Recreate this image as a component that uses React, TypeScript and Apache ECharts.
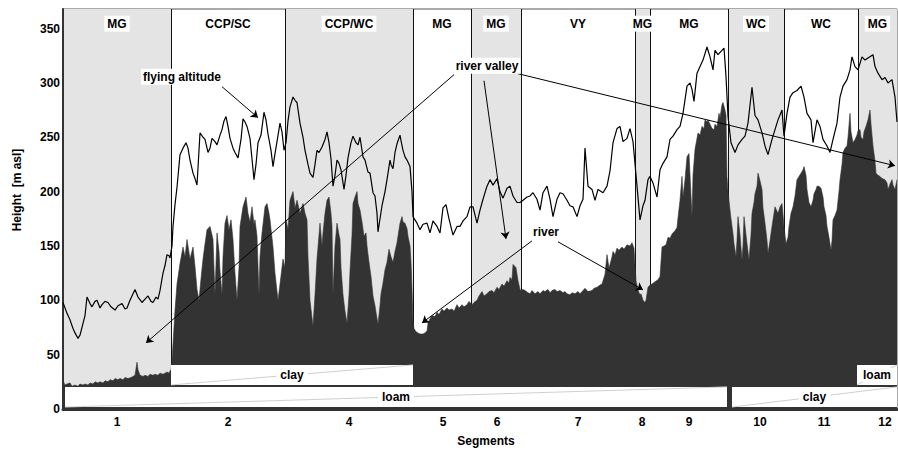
import { useEffect, useRef } from 'react';
import * as echarts from 'echarts';

// x values: distance along the flight line (0 .. 834), y: height [m asl]
const segmentBounds = [0, 108, 222, 350, 408, 458, 572, 587, 665, 721, 795, 834];
const segmentNames = ['MG', 'CCP/SC', 'CCP/WC', 'MG', 'MG', 'VY', 'MG', 'MG', 'WC', 'WC', 'MG'];
const segmentTickPos = [54, 165, 286, 380, 434, 515, 579, 626, 697, 761, 822];
const segmentTickLabels = ['1', '2', '4', '5', '6', '7', '8', '9', '10', '11', '12'];

const flyingAltitude: [number, number][] = [
  [0,98],[4,88],[7,82],[10,74],[12,70],[15,65],[17,68],[19,75],[22,86],[24,103],[27,97],[29,94],[32,99],[34,100],[37,93],[39,96],[42,99],[45,98],[48,94],[52,91],[55,95],[59,97],[62,92],[64,93],[67,100],[70,106],[72,110],[75,103],[79,98],[82,101],[85,104],[88,99],[90,98],[93,103],[95,101],[97,109],[100,125],[102,132],[104,142],[106,141],[107,139],[109,150],[110,168],[112,188],[114,204],[117,234],[120,240],[123,245],[125,240],[127,229],[130,217],[132,212],[134,206],[137,254],[140,250],[142,248],[145,236],[147,240],[149,249],[152,246],[154,243],[157,252],[159,257],[161,265],[163,269],[165,260],[167,249],[170,240],[172,236],[175,231],[178,248],[180,267],[182,264],[184,260],[187,249],[189,230],[191,211],[193,225],[195,245],[198,252],[201,273],[203,266],[205,253],[208,238],[210,223],[212,235],[214,246],[217,263],[219,255],[221,238],[223,245],[225,265],[227,278],[230,287],[232,284],[234,282],[237,263],[240,250],[242,238],[245,225],[247,217],[250,213],[252,225],[254,238],[256,236],[259,241],[262,248],[264,255],[266,245],[268,230],[270,205],[272,215],[274,229],[276,226],[278,220],[281,202],[283,215],[285,231],[288,245],[290,251],[293,245],[295,243],[297,250],[300,232],[302,229],[305,218],[307,217],[310,199],[312,196],[314,180],[315,163],[317,175],[319,187],[322,200],[324,211],[327,229],[328,225],[330,221],[332,236],[334,244],[337,252],[338,247],[340,238],[342,232],[344,229],[347,223],[349,200],[350,177],[354,171],[357,165],[360,170],[364,171],[367,162],[370,173],[374,168],[377,162],[380,185],[383,188],[386,175],[390,160],[394,168],[397,168],[400,173],[404,177],[407,186],[410,186],[414,171],[417,183],[420,193],[424,205],[427,211],[430,206],[434,212],[437,200],[440,194],[444,203],[447,205],[450,196],[454,190],[457,190],[460,192],[464,195],[467,196],[470,199],[474,193],[477,183],[480,199],[484,205],[487,193],[490,177],[494,193],[497,199],[500,198],[504,192],[507,187],[510,186],[514,177],[517,187],[520,193],[522,240],[525,205],[529,202],[532,192],[535,202],[540,199],[544,205],[547,219],[550,245],[554,258],[557,260],[560,246],[564,249],[567,258],[570,246],[574,205],[577,174],[580,187],[582,192],[585,211],[587,214],[590,208],[594,195],[597,220],[600,226],[604,232],[607,248],[610,251],[614,257],[617,260],[620,272],[624,297],[627,300],[629,294],[631,283],[634,309],[637,315],[640,321],[644,333],[647,324],[650,312],[652,330],[655,326],[659,330],[661,332],[663,306],[665,269],[668,245],[672,236],[675,243],[679,248],[682,251],[685,263],[689,296],[692,270],[695,266],[699,254],[702,242],[705,234],[709,248],[712,257],[715,266],[719,275],[721,251],[724,272],[727,287],[730,291],[734,293],[738,297],[741,287],[744,272],[748,266],[750,245],[754,266],[757,260],[760,248],[764,242],[767,236],[770,248],[774,263],[777,287],[780,297],[784,303],[787,312],[789,324],[792,315],[795,312],[799,324],[802,321],[805,323],[810,326],[812,315],[815,309],[819,303],[822,305],[825,300],[829,303],[832,287],[834,264]
];

const terrain: [number, number][] = [
  [0,26],[2,22],[4,23],[7,24],[9,21],[12,22],[15,21],[17,23],[20,22],[22,23],[25,22],[27,24],[30,23],[32,25],[35,24],[37,25],[40,24],[42,26],[45,25],[47,27],[50,26],[52,28],[55,27],[57,28],[60,27],[62,29],[65,28],[68,29],[70,30],[72,31],[74,43],[75,36],[77,31],[80,30],[82,31],[85,30],[87,32],[90,31],[92,32],[95,31],[97,33],[100,32],[102,33],[104,34],[106,33],[107,35],
  [108,36],[109,45],[110,60],[112,91],[114,115],[117,134],[120,149],[122,140],[124,156],[127,138],[130,149],[132,131],[134,110],[136,100],[138,120],[140,138],[142,152],[144,165],[147,168],[150,156],[151,130],[152,105],[154,162],[156,145],[157,127],[159,105],[160,140],[162,171],[164,178],[166,165],[168,174],[170,156],[172,125],[174,100],[176,130],[177,168],[180,186],[183,195],[185,180],[187,172],[189,186],[191,170],[192,174],[194,159],[196,105],[197,140],[199,162],[202,186],[204,189],[206,180],[207,174],[210,149],[212,125],[215,100],[217,115],[220,138],[222,130],[223,174],[225,165],[227,192],[230,200],[232,185],[234,192],[236,184],[237,180],[240,189],[242,180],[244,174],[245,140],[247,100],[250,76],[252,105],[254,138],[257,171],[259,150],[260,162],[262,180],[264,192],[266,195],[268,180],[269,168],[270,105],[272,150],[274,171],[276,160],[277,156],[278,130],[280,105],[282,90],[284,79],[286,105],[287,127],[289,160],[290,189],[292,195],[294,200],[295,189],[297,183],[299,172],[301,159],[303,162],[304,150],[306,135],[308,122],[310,104],[312,95],[313,89],[315,78],[317,95],[318,106],[320,116],[322,128],[324,135],[326,147],[328,140],[330,135],[332,145],[334,153],[336,165],[337,171],[339,177],[340,172],[342,171],[344,166],[345,159],[347,150],[348,135],[349,110],[350,80],
  [351,74],[353,71],[355,70],[357,69],[360,69],[362,70],[364,72],[365,79],[367,83],[369,86],[372,85],[374,89],[376,87],[379,92],[381,90],[384,93],[386,91],[389,92],[391,90],[394,96],[396,93],[399,96],[401,94],[404,96],[406,99],[409,96],[411,98],[414,100],[416,104],[419,108],[421,104],[424,106],[426,108],[429,109],[431,107],[434,112],[436,110],[439,115],[441,113],[444,118],[446,116],[447,121],[449,119],[450,133],[452,131],[453,130],[455,118],[457,110],[458,109],[460,110],[462,109],[465,107],[467,106],[469,109],[472,106],[475,108],[477,106],[480,109],[482,108],[485,110],[487,107],[489,109],[492,110],[494,108],[497,109],[500,107],[502,108],[504,106],[507,105],[509,107],[512,106],[515,108],[517,106],[520,109],[522,111],[525,108],[529,109],[531,111],[534,112],[537,114],[539,115],[540,118],[542,124],[544,142],[546,130],[547,133],[549,140],[550,145],[552,142],[554,148],[556,146],[559,149],[561,147],[564,151],[567,150],[569,153],[571,148],[573,118],[575,109],[577,105],[578,106],[580,100],[582,98],[583,100],[585,112],[587,114],[589,115],[592,117],[595,119],[597,122],[599,149],[601,150],[603,151],[605,158],[607,157],[609,161],[612,164],[614,167],[615,176],[617,192],[619,214],[620,195],[622,211],[624,232],[626,235],[628,196],[629,177],[630,215],[632,239],[635,254],[637,252],[639,260],[641,258],[642,266],[644,264],[645,266],[647,262],[649,258],[651,257],[652,262],[654,260],[656,272],[657,268],[659,280],[660,282],[662,275],[663,270],[664,214],[665,200],[667,183],[668,175],[670,161],[671,152],[673,140],[674,155],[675,177],[677,160],[679,137],[680,150],[681,177],[683,160],[684,152],[686,137],[688,160],[689,180],[691,190],[692,198],[694,205],[695,217],[697,210],[699,202],[700,185],[702,171],[704,155],[705,143],[707,155],[709,168],[711,180],[712,186],[714,182],[715,180],[717,186],[719,189],[721,168],[723,152],[725,158],[726,168],[728,180],[730,186],[732,196],[734,211],[736,214],[738,217],[740,220],[741,223],[743,215],[744,202],[746,190],[748,186],[750,192],[751,198],[753,202],[754,205],[756,205],[758,203],[760,195],[761,186],[763,178],[764,168],[766,158],[768,146],[769,155],[770,174],[772,178],[774,183],[776,200],[777,211],[779,225],[780,236],[782,240],[784,242],[785,250],[787,272],[788,255],[790,245],[792,248],[794,252],[795,256],[797,257],[798,250],[800,248],[801,255],[803,260],[805,266],[807,275],[808,262],[810,242],[812,228],[813,217],[815,215],[817,214],[819,212],[822,211],[824,208],[825,202],[827,207],[829,211],[830,206],[832,202],[834,211]
];

const soilNames = ['loam', 'clay', 'clay', 'loam'];
const soilX0 = [2, 108, 669, 794];
const soilX1 = [664, 350, 834, 834];
const soilY0 = [1.8, 22.1, 1.8, 22.1];
const soilY1 = [20.3, 40.5, 20.3, 40.5];

const annotationTexts = ['flying altitude', 'river valley', 'river'];
const annotationPos = [[119, 305.7], [424, 315.8], [483, 163]];
const arrowFrom = [[159, 296.5], [391, 307.6], [421, 302], [455, 308.5], [469, 154.7], [495, 153.8]];
const arrowTo = [[195, 268], [83, 60.8], [443, 156.5], [832, 223.8], [359, 79.2], [580, 109.6]];

const FONT = 'Liberation Sans, Arial, Helvetica, sans-serif';

export default function App() {
  const ref = useRef<HTMLDivElement>(null);
  useEffect(() => {
    document.body.style.margin = '0';
    const chart = echarts.init(ref.current!, null, { renderer: 'svg' });

    const bands = [];
    for (let i = 0; i < segmentNames.length; i++) {
      if (i % 2 === 0) {
        bands.push([{ xAxis: segmentBounds[i], yAxis: 0 }, { xAxis: segmentBounds[i + 1], yAxis: 368 }]);
      }
    }
    const vlines = segmentBounds.slice(1, -1).map((b) => ({ xAxis: b }));
    const segLabelData = segmentNames.map((n, i) => ({
      name: n,
      value: [(segmentBounds[i] + segmentBounds[i + 1]) / 2, 354.5],
    }));
    const soilBoxes = soilNames.map((n, i) => [
      { xAxis: soilX0[i], yAxis: soilY0[i] },
      { xAxis: soilX1[i], yAxis: soilY1[i] },
    ]);
    const soilDiag = soilNames.map((n, i) => [
      { coord: [soilX0[i], soilY0[i]] },
      { coord: [soilX1[i], soilY1[i]] },
    ]);
    const soilLabels = soilNames.map((n, i) => ({
      name: n,
      value: [(soilX0[i] + soilX1[i]) / 2, (soilY0[i] + soilY1[i]) / 2],
    }));
    const arrows = arrowFrom.map((f, i) => [{ coord: f }, { coord: arrowTo[i] }]);
    const annLabels = annotationTexts.map((t, i) => ({ name: t, value: annotationPos[i] }));

    const labelBase = {
      show: true,
      position: 'inside',
      formatter: '{b}',
      color: '#000',
      fontFamily: FONT,
      fontWeight: 'bold',
      fontSize: 12,
      backgroundColor: '#fff',
      opacity: 1,
    };
    const hiddenSymbol = { color: 'rgba(0,0,0,0)', opacity: 1 };

    chart.setOption({
      animation: false,
      textStyle: { fontFamily: FONT },
      grid: { left: 63, right: 1, top: 9, bottom: 41, show: true, borderColor: '#555', borderWidth: 1 },
      xAxis: {
        type: 'value',
        min: 0,
        max: 834,
        splitLine: { show: false },
        axisTick: { show: false },
        axisLine: { lineStyle: { color: '#333', width: 3 } },
        axisLabel: {
          customValues: segmentTickPos,
          formatter: (v: number) => {
            const k = segmentTickPos.indexOf(v);
            return k >= 0 ? segmentTickLabels[k] : '';
          },
          margin: 7,
          color: '#000',
          fontWeight: 'bold',
          fontSize: 12,
          fontFamily: FONT,
        },
      },
      yAxis: {
        type: 'value',
        min: 0,
        max: 368,
        interval: 50,
        splitLine: { show: false },
        axisTick: { show: false },
        axisLine: { show: true, lineStyle: { color: '#333', width: 2 } },
        axisLabel: {
          formatter: (v: number) => (v % 50 === 0 ? String(v) : ''),
          margin: 3,
          color: '#000',
          fontWeight: 'bold',
          fontSize: 12,
          fontFamily: FONT,
        },
      },
      graphic: [
        {
          type: 'text',
          x: 17,
          y: 190,
          rotation: Math.PI / 2,
          style: {
            text: 'Height  [m asl]',
            fill: '#000',
            font: `bold 12px ${FONT}`,
            textAlign: 'center',
            textVerticalAlign: 'middle',
          },
        },
        {
          type: 'text',
          x: 486,
          y: 441,
          style: {
            text: 'Segments',
            fill: '#000',
            font: `bold 12px ${FONT}`,
            textAlign: 'center',
            textVerticalAlign: 'middle',
          },
        },
      ],
      series: [
        {
          type: 'line',
          data: [],
          z: 1,
          silent: true,
          markArea: { z: 0, silent: true, itemStyle: { color: '#e4e4e4', opacity: 1 }, label: { show: false }, data: bands },
          markLine: {
            z: 1,
            silent: true,
            symbol: ['none', 'none'],
            label: { show: false },
            lineStyle: { color: '#111', width: 1, type: 'solid' },
            data: vlines,
          },
        },
        {
          name: 'terrain',
          type: 'line',
          data: terrain,
          z: 2,
          silent: true,
          showSymbol: false,
          lineStyle: { color: '#333', width: 0.6 },
          areaStyle: { color: '#333', opacity: 1 },
        },
        {
          type: 'line',
          data: [],
          z: 3,
          silent: true,
          markArea: { z: 3, silent: true, itemStyle: { color: '#fff', opacity: 1 }, label: { show: false }, data: soilBoxes },
        },
        {
          type: 'line',
          data: [],
          z: 4,
          silent: true,
          markLine: {
            z: 4,
            silent: true,
            symbol: ['none', 'none'],
            label: { show: false },
            lineStyle: { color: '#d0d0d0', width: 1, type: 'solid' },
            data: soilDiag,
          },
        },
        {
          type: 'scatter',
          data: soilLabels,
          z: 5,
          silent: true,
          symbolSize: 1,
          itemStyle: hiddenSymbol,
          label: { ...labelBase, padding: [1, 4] },
        },
        {
          name: 'flying altitude',
          type: 'line',
          data: flyingAltitude,
          z: 6,
          silent: true,
          showSymbol: false,
          lineStyle: { color: '#000', width: 1.2 },
        },
        {
          type: 'scatter',
          data: segLabelData,
          z: 8,
          silent: true,
          symbolSize: 1,
          itemStyle: hiddenSymbol,
          label: { ...labelBase, padding: [2, 3] },
        },
        {
          type: 'scatter',
          data: annLabels,
          z: 9,
          silent: true,
          symbolSize: 1,
          itemStyle: hiddenSymbol,
          label: { ...labelBase, padding: [2, 2] },
          markLine: {
            z: 9,
            silent: true,
            symbol: ['none', 'arrow'],
            symbolSize: 7,
            label: { show: false },
            lineStyle: { color: '#000', width: 1, type: 'solid' },
            data: arrows,
          },
        },
      ],
    });
    return () => chart.dispose();
  }, []);
  return <div ref={ref} style={{ position: 'absolute', left: 0, top: 0, width: 898, height: 450 }} />;
}
